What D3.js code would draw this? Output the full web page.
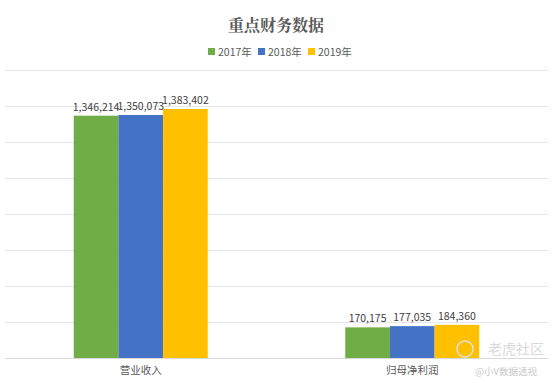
<!DOCTYPE html>
<html><head><meta charset="utf-8">
<script src="https://cdn.jsdelivr.net/npm/d3@7"></script>
<style>body{margin:0;background:#fff;}svg{display:block;font-family:"Noto Sans CJK SC","Noto Sans",sans-serif;}</style>
</head><body><svg id="c" width="553" height="383"></svg>
<script>
const categories = ["营业收入", "归母净利润"];
const seriesNames = ["2017年", "2018年", "2019年"];
const values2017 = [1346214, 170175];
const values2018 = [1350073, 177035];
const values2019 = [1383402, 184360];
const colors = ["#70AD47", "#4472C4", "#FFC000"];
const yTicks = [0, 200000, 400000, 600000, 800000, 1000000, 1200000, 1400000, 1600000];

(function() {
const seriesValues = [values2017, values2018, values2019];
const svg = d3.select("#c");
const pL = 5, pR = 548, pT = 70, pB = 358;

const y = d3.scaleLinear().domain([0, 1600000]).range([pB, pT]);
const x0 = d3.scaleBand().domain(categories).range([pL, pR]).paddingInner(0).paddingOuter(0);
const groupW = 134;
const x1 = d3.scaleBand().domain(seriesNames).range([0, groupW]);

svg.append("g").selectAll("line").data(yTicks).join("line")
  .attr("x1", pL).attr("x2", pR)
  .attr("y1", d => y(d)).attr("y2", d => y(d))
  .attr("stroke", d => d === 0 ? "#d9d9d9" : "#e6e6e6").attr("stroke-width", 1)
  .attr("shape-rendering", "crispEdges");

svg.append("text").attr("x", 276).attr("y", 31).attr("text-anchor", "middle")
  .attr("font-size", 16).attr("font-weight", "bold").attr("fill", "#595959")
  .style("font-family", "'Noto Serif CJK SC','Noto Sans CJK SC',serif")
  .text("重点财务数据");

const legX = [208, 258, 308];
const leg = svg.append("g").selectAll("g").data(seriesNames).join("g")
  .attr("transform", (d, i) => `translate(${legX[i]},52)`);
leg.append("rect").attr("x", 0).attr("y", -4).attr("width", 7).attr("height", 7)
  .attr("fill", (d, i) => colors[i]);
leg.append("text").attr("x", 10).attr("y", 3.5).attr("font-size", 10.5).attr("fill", "#595959").text(d => d);

const groups = svg.append("g").selectAll("g").data(categories).join("g")
  .attr("transform", d => `translate(${x0(d) + (x0.bandwidth() - groupW) / 2},0)`);
groups.each(function(cat, ci) {
  const g = d3.select(this);
  seriesNames.forEach((s, si) => {
    const v = seriesValues[si][ci];
    g.append("rect").attr("x", x1(s)).attr("width", x1.bandwidth())
      .attr("y", y(v)).attr("height", y(0) - y(v)).attr("fill", colors[si]);
    g.append("text").attr("x", x1(s) + x1.bandwidth() / 2).attr("y", y(v) - 5)
      .attr("text-anchor", "middle").attr("font-size", 10.5).attr("fill", "#404040")
      .text(d3.format(",")(v));
  });
});

svg.append("g").selectAll("text").data(categories).join("text")
  .attr("x", d => x0(d) + x0.bandwidth() / 2).attr("y", 374)
  .attr("text-anchor", "middle").attr("font-size", 10.5).attr("fill", "#595959")
  .text(d => d);

svg.append("circle").attr("cx", 465).attr("cy", 349).attr("r", 8).attr("fill", "none").attr("stroke", "#e0e0e0").attr("stroke-width", 1.5);
svg.append("text").attr("x", 488).attr("y", 354).attr("font-size", 14).attr("fill", "#d9d9d9").text("老虎社区");
svg.append("text").attr("x", 475).attr("y", 375).attr("font-size", 9.5).attr("fill", "#c8c8c8").text("@小V数据透视");
})();
</script></body></html>
